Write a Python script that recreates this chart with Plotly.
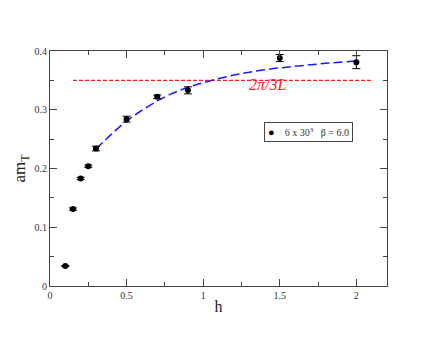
import plotly.graph_objects as go

# measured points
h_vals = [0.1, 0.15, 0.2, 0.25, 0.3, 0.5, 0.7, 0.9, 1.5, 2.0]
amt_vals = [0.034, 0.131, 0.183, 0.204, 0.234, 0.284, 0.322, 0.333, 0.388, 0.381]
amt_err = [0.001, 0.002, 0.002, 0.002, 0.004, 0.005, 0.003, 0.006, 0.006, 0.011]

# fitted curve
fit_h = [0.3, 0.4, 0.5, 0.6, 0.7, 0.8, 0.9, 1.0, 1.2, 1.4, 1.6, 1.8, 2.0]
fit_amt = [0.233, 0.258, 0.281, 0.299, 0.315, 0.328, 0.338, 0.346, 0.359, 0.368, 0.374, 0.379, 0.383]

# 2pi/3L reference line
ref_h = [0.15, 2.1]
ref_amt = [0.35, 0.35]

font = "Liberation Serif"

fig = go.Figure()

fig.add_trace(go.Scatter(
    x=ref_h, y=ref_amt, mode="lines", showlegend=False,
    line=dict(color="#ff2020", width=1.1, dash="4px,2px"),
))

fig.add_trace(go.Scatter(
    x=fit_h, y=fit_amt, mode="lines", showlegend=False,
    line=dict(color="#1a1aff", width=1.5, dash="9px,4px", shape="spline"),
))

fig.add_trace(go.Scatter(
    x=h_vals, y=amt_vals, mode="markers", showlegend=False,
    marker=dict(color="black", size=6),
    error_y=dict(type="data", array=amt_err, color="black", thickness=1, width=4),
))

fig.add_annotation(
    x=1.417, y=0.343, text="2\u03c0/3L", showarrow=False,
    font=dict(family=font, size=16, color="#ff2020", style="italic"),
)

# legend box
fig.add_annotation(
    xref="paper", yref="paper", x=0.635, y=0.70, xanchor="left", yanchor="top",
    text="<span style='font-size:11px;color:black'>\u25cf</span>    6 x 30<sup>3</sup>   \u03b2 = 6.0",
    showarrow=False, align="left",
    font=dict(family=font, size=10, color="#333"),
    bordercolor="#444", borderwidth=1, borderpad=3, bgcolor="white",
)

axis_common = dict(
    showgrid=False, zeroline=False, showline=True, linecolor="#444", linewidth=1,
    mirror="allticks", ticks="inside", ticklen=7, tickcolor="#444",
    tickfont=dict(family=font, size=10, color="#333"), automargin=False,
)

fig.update_layout(
    width=436, height=337,
    margin=dict(l=42, r=57, t=43, b=59),
    plot_bgcolor="white", paper_bgcolor="white",
    font=dict(family=font),
    xaxis=dict(
        range=[0, 2.2], tick0=0, dtick=0.5, tickformat="~g",
        minor=dict(dtick=0.25, ticks="inside", ticklen=4, tickcolor="#444"),
        title=dict(text="h", font=dict(family=font, size=16, color="#222"), standoff=0),
        **axis_common,
    ),
    yaxis=dict(
        range=[0, 0.4], tick0=0, dtick=0.1, tickformat="~g",
        minor=dict(dtick=0.05, ticks="inside", ticklen=4, tickcolor="#444"),
        title=dict(text="am<sub>T</sub>", font=dict(family=font, size=17, color="#222"), standoff=4),
        **axis_common,
    ),
)

fig.write_html("out.html")
